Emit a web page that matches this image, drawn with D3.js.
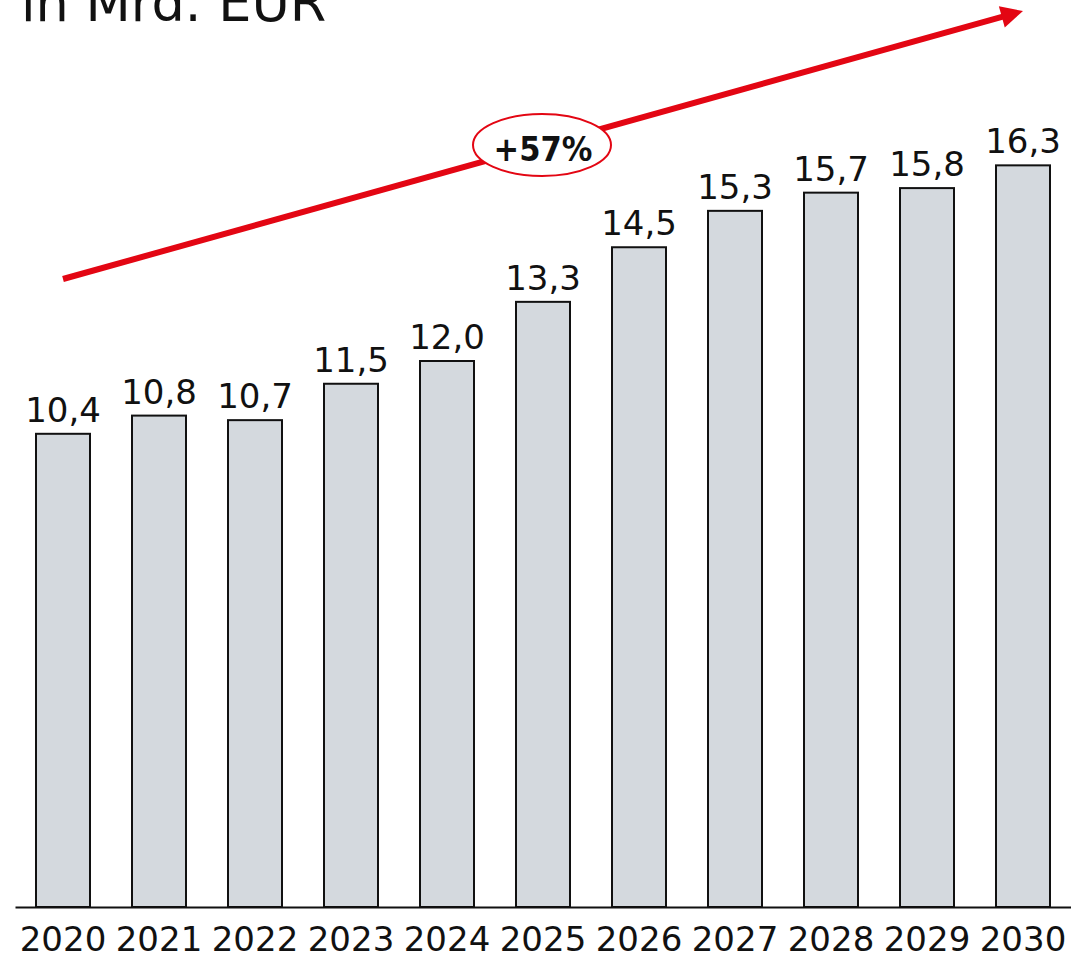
<!DOCTYPE html>
<html>
<head>
    <meta charset="utf-8">
    <title>in Mrd. EUR</title>
    <script type="text/javascript" src="https://cdn.jsdelivr.net/npm/d3@7"></script>
    <style type="text/css">
        html, body { margin: 0; background: #fff; }
        svg { display: block; font-family: "DejaVu Sans", sans-serif; }
        .bar { fill: #d4d9de; stroke: #111; stroke-width: 2; }
        .label { font-size: 34px; fill: #111; text-anchor: middle; }
    </style>
</head>
<body>
<script type="text/javascript">
    var years = ["2020", "2021", "2022", "2023", "2024", "2025", "2026", "2027", "2028", "2029", "2030"];
    var values = [10.4, 10.8, 10.7, 11.5, 12.0, 13.3, 14.5, 15.3, 15.7, 15.8, 16.3];
    var title = "in Mrd. EUR";
    var growth = "+57%";

    var w = 1071, h = 960, baseY = 907;

    var fmt = d3.formatLocale({decimal: ",", thousands: ".", grouping: [3], currency: ["", " €"]}).format(".1f");

    var svg = d3.select("body").append("svg")
            .attr("width", w)
            .attr("height", h);

    var x = d3.scaleBand()
            .domain(years)
            .range([15, 1071])
            .paddingInner(0.4375)
            .paddingOuter(0.21875);

    var y = d3.scaleLinear()
            .domain([0, 907 / 45.5])
            .range([baseY, 0]);

    // title, cut off at the top like the original
    svg.append("text")
        .attr("x", 21)
        .attr("y", 21)
        .style("font-size", "52.5px")
        .attr("fill", "#111")
        .text(title);

    // bars
    svg.selectAll("rect.bar")
        .data(values)
        .enter().append("rect")
        .attr("class", "bar")
        .attr("x", function (d, i) { return x(years[i]); })
        .attr("y", function (d) { return y(d); })
        .attr("width", x.bandwidth())
        .attr("height", function (d) { return baseY - y(d); });

    svg.selectAll("text.value")
        .data(values)
        .enter().append("text")
        .attr("class", "label value")
        .attr("x", function (d, i) { return x(years[i]) + x.bandwidth() / 2; })
        .attr("y", function (d) { return y(d) - 12; })
        .text(function (d) { return fmt(d); });

    // axis
    var axis = svg.append("g")
            .attr("transform", "translate(0," + baseY + ")")
            .call(d3.axisBottom(x).tickSize(0).tickPadding(20));
    axis.select(".domain").attr("stroke", "#111").attr("stroke-width", 2);
    axis.selectAll("text")
        .attr("fill", "#111")
        .style("font-family", "DejaVu Sans, sans-serif")
        .style("font-size", "34px")
        .attr("dy", "0.71em");

    // growth arrow
    var red = "#e30613";
    var a0 = [63, 279], a1 = [1023, 11];
    var ang = Math.atan2(a1[1] - a0[1], a1[0] - a0[0]);
    var headLen = 22, headW = 11;
    var base = [a1[0] - headLen * Math.cos(ang), a1[1] - headLen * Math.sin(ang)];

    svg.append("line")
        .attr("x1", a0[0]).attr("y1", a0[1])
        .attr("x2", base[0] + 2 * Math.cos(ang)).attr("y2", base[1] + 2 * Math.sin(ang))
        .attr("stroke", red)
        .attr("stroke-width", 6);

    svg.append("path")
        .attr("d", "M" + a1[0] + "," + a1[1] +
            "L" + (base[0] - headW * Math.sin(ang)) + "," + (base[1] + headW * Math.cos(ang)) +
            "L" + (base[0] + headW * Math.sin(ang)) + "," + (base[1] - headW * Math.cos(ang)) + "Z")
        .attr("fill", red);

    svg.append("ellipse")
        .attr("cx", 542).attr("cy", 145)
        .attr("rx", 69).attr("ry", 31)
        .attr("fill", "#fff")
        .attr("stroke", red)
        .attr("stroke-width", 2);

    svg.append("text")
        .attr("x", 543).attr("y", 161)
        .attr("text-anchor", "middle")
        .style("font-family", "'DejaVu Sans Condensed', 'DejaVu Sans', sans-serif")
        .style("font-stretch", "condensed")
        .style("font-size", "34px")
        .style("font-weight", "bold")
        .attr("fill", "#111")
        .text(growth);
</script>
</body>
</html>
